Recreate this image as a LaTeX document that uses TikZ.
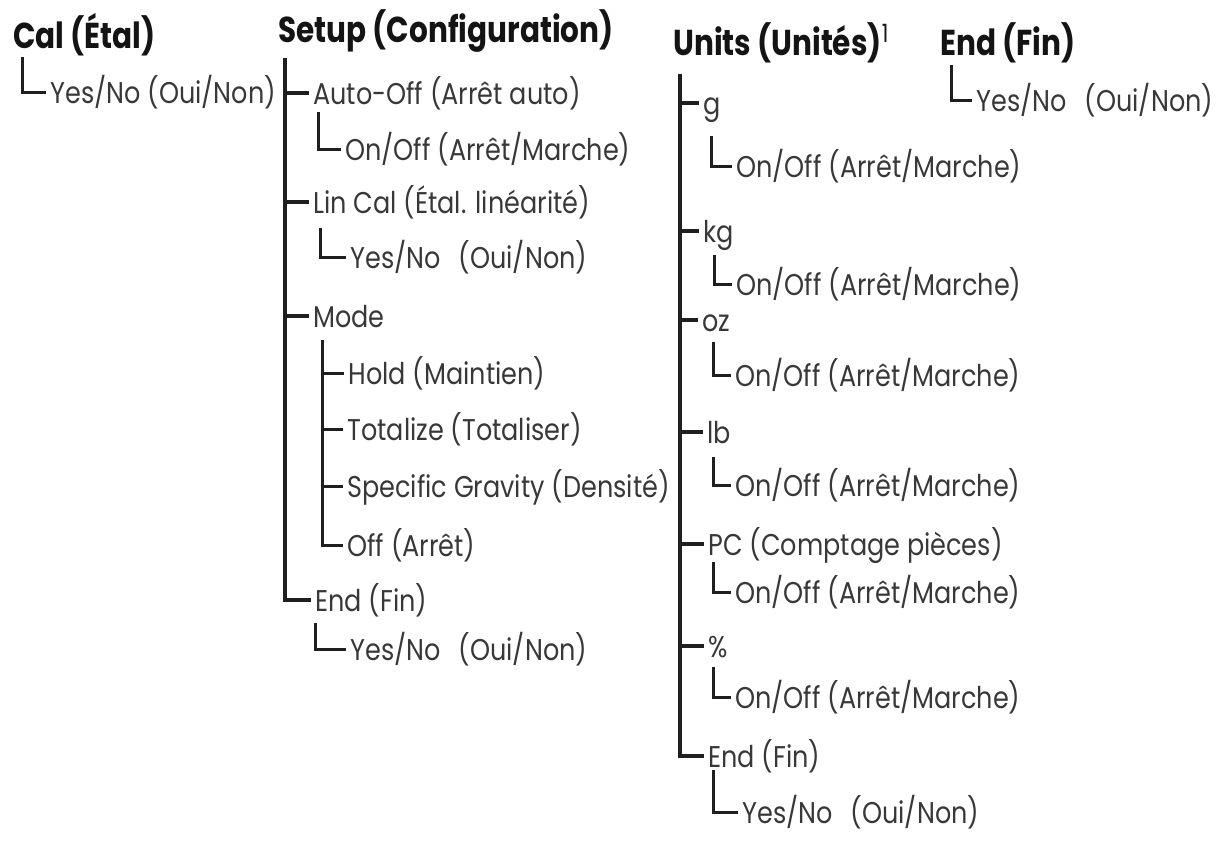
\documentclass[tikz,border=0pt]{standalone}
\usepackage{fontspec}
\setmainfont{Poppins}[FakeStretch=0.85]
\newfontfamily\headfont{Poppins}[FakeStretch=0.82]
\usepackage{tikz}
\tikzset{
  baseline = (current bounding box.center),
}
\usetikzlibrary{positioning}

\begin{document}
\begin{tikzpicture}[
    x=0.5pt, y=-0.5pt,
    head/.style={anchor=west,inner sep=0pt,text height=12.5pt,text depth=0pt,
      font=\headfont\bfseries\fontsize{18}{21}\selectfont,text=black!92},
    item/.style={anchor=west,inner sep=0pt,text height=11pt,text depth=0pt,
      font=\fontsize{15}{18}\selectfont,text=black!78},
    spine/.style={line width=1.7pt,draw=black!88,shorten >=2pt},
    twig/.style={line width=1.5pt,draw=black!88,shorten >=2pt}
    ]
    \useasboundingbox (0,0) rectangle (1227,848);
    % Cal
    \node[head] (cal) at (13,36) {Cal (Étal)};
    \node[item] (calyes) at (50,92) {Yes/No (Oui/Non)};
    \coordinate (calL) at (22,57);
    \draw[twig] (calL) |- (calyes.west);
    % Setup
    \node[head] (setup) at (278,30) {Setup (Configuration)};
    \coordinate (setupL) at (285,58);
    \node[item] (autooff) at (313,93) {Auto-Off (Arrêt auto)};
    \node[item] (autoon) at (345,149) {On/Off (Arrêt/Marche)};
    \node[item] (lincal) at (313,202) {Lin Cal (Étal. linéarité)};
    \node[item] (linyes) at (350,257) {Yes/No\hspace{0.6em}(Oui/Non)};
    \node[item] (mode) at (313,316) {Mode};
    \node[item] (hold) at (348,373) {Hold (Maintien)};
    \node[item] (total) at (347,429) {Totalize (Totaliser)};
    \node[item] (grav) at (347,486) {Specific Gravity (Densité)};
    \node[item] (modeoff) at (347,545) {Off (Arrêt)};
    \node[item] (setupend) at (315,600) {End (Fin)};
    \node[item] (setupyes) at (350,649) {Yes/No\hspace{0.6em}(Oui/Non)};
    \draw[spine] (setupL) |- (setupend.west);
    \draw[spine] (setupL |- autooff.west) -- (autooff.west);
    \draw[spine] (setupL |- lincal.west) -- (lincal.west);
    \draw[spine] (setupL |- mode.west) -- (mode.west);
    \coordinate (autoL) at (318,112);
    \draw[twig] (autoL) |- (autoon.west);
    \coordinate (linL) at (320,228);
    \draw[twig] (linL) |- (linyes.west);
    \coordinate (modeL) at (322,340);
    \draw[twig] (modeL) |- (modeoff.west);
    \draw[twig] (modeL |- hold.west) -- (hold.west);
    \draw[twig] (modeL |- total.west) -- (total.west);
    \draw[twig] (modeL |- grav.west) -- (grav.west);
    \coordinate (endL) at (315,623);
    \draw[twig] (endL) |- (setupyes.west);
    % Units
    \node[head] (units) at (673,43) {Units (Unités)\textsuperscript{\mdseries 1}};
    \coordinate (unitsL) at (680,74);
    \node[item] (g) at (703,103) {g};
    \node[item] (gon) at (736,166) {On/Off (Arrêt/Marche)};
    \node[item] (kg) at (703,231) {kg};
    \node[item] (kgon) at (736,284) {On/Off (Arrêt/Marche)};
    \node[item] (oz) at (702,320) {oz};
    \node[item] (ozon) at (735,375) {On/Off (Arrêt/Marche)};
    \node[item] (lb) at (707,432) {lb};
    \node[item] (lbon) at (735,485) {On/Off (Arrêt/Marche)};
    \node[item] (pc) at (708,544) {PC (Comptage pièces)};
    \node[item] (pcon) at (735,592) {On/Off (Arrêt/Marche)};
    \node[item] (pct) at (708,646) {\%};
    \node[item] (pcton) at (735,697) {On/Off (Arrêt/Marche)};
    \node[item] (unitsend) at (708,756) {End (Fin)};
    \node[item] (unitsyes) at (742,812) {Yes/No\hspace{0.6em}(Oui/Non)};
    \draw[spine] (unitsL) |- (unitsend.west);
    \draw[spine] (unitsL |- g.west) -- (g.west);
    \draw[spine] (unitsL |- kg.west) -- (kg.west);
    \draw[spine] (unitsL |- oz.west) -- (oz.west);
    \draw[spine] (unitsL |- lb.west) -- (lb.west);
    \draw[spine] (unitsL |- pc.west) -- (pc.west);
    \draw[spine] (unitsL |- pct.west) -- (pct.west);
    \coordinate (gL) at (711,136);
    \draw[twig] (gL) |- (gon.west);
    \coordinate (kgL) at (714,255);
    \draw[twig] (kgL) |- (kgon.west);
    \coordinate (ozL) at (713,342);
    \draw[twig] (ozL) |- (ozon.west);
    \coordinate (lbL) at (713,457);
    \draw[twig] (lbL) |- (lbon.west);
    \coordinate (pcL) at (713,562);
    \draw[twig] (pcL) |- (pcon.west);
    \coordinate (pctL) at (713,667);
    \draw[twig] (pctL) |- (pcton.west);
    \coordinate (uendL) at (713,770);
    \draw[twig] (uendL) |- (unitsyes.west);
    % End
    \node[head] (fin) at (940,43) {End (Fin)};
    \node[item] (finyes) at (976,100) {Yes/No\hspace{0.6em}(Oui/Non)};
    \coordinate (finL) at (951,65);
    \draw[twig] (finL) |- (finyes.west);
  \end{tikzpicture}
\end{document}
